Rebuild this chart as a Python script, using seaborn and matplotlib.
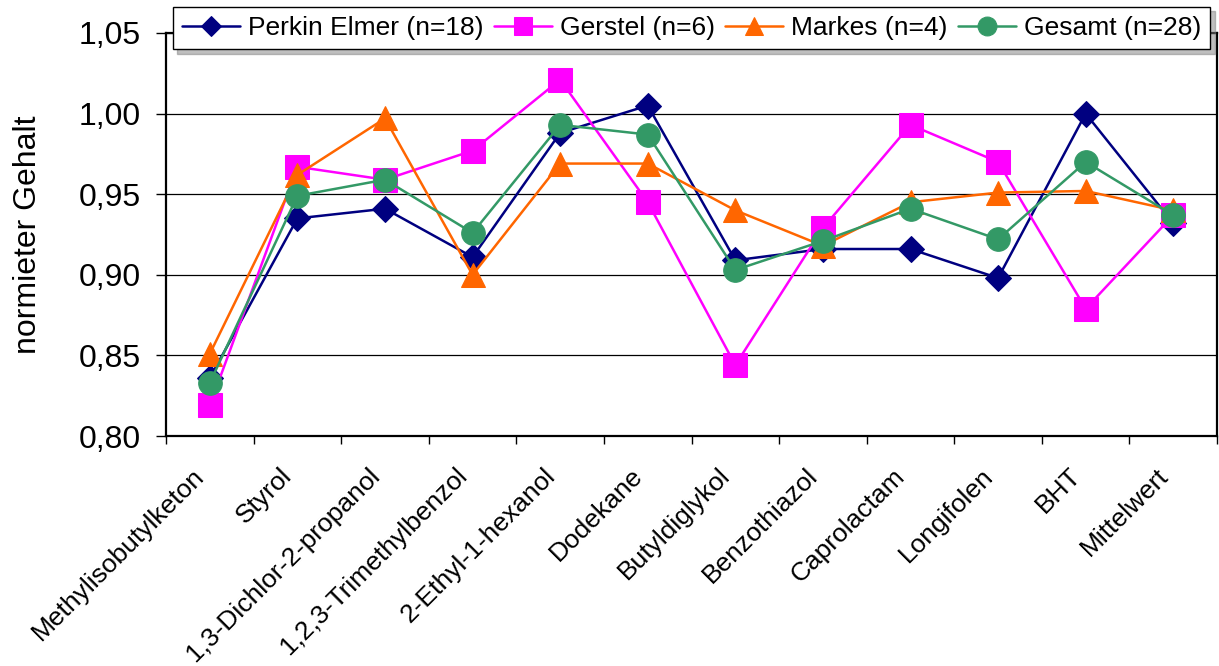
import matplotlib
matplotlib.use("Agg")
import matplotlib.pyplot as plt
import matplotlib.transforms as mtransforms
import seaborn as sns

# Werte
categories = [
    "Methylisobutylketon", "Styrol", "1,3-Dichlor-2-propanol",
    "1,2,3-Trimethylbenzol", "2-Ethyl-1-hexanol", "Dodekane",
    "Butyldiglykol", "Benzothiazol", "Caprolactam", "Longifolen",
    "BHT", "Mittelwert",
]
perkin = [0.836, 0.935, 0.941, 0.911, 0.988, 1.005, 0.909, 0.916, 0.916, 0.898, 1.000, 0.932]
gerstel = [0.819, 0.967, 0.959, 0.977, 1.021, 0.945, 0.844, 0.929, 0.993, 0.970, 0.879, 0.937]
markes = [0.851, 0.962, 0.997, 0.900, 0.969, 0.969, 0.940, 0.918, 0.945, 0.951, 0.952, 0.940]
gesamt = [0.833, 0.949, 0.959, 0.926, 0.993, 0.987, 0.903, 0.921, 0.941, 0.922, 0.970, 0.937]
y_ticks = [0.80, 0.85, 0.90, 0.95, 1.00, 1.05]

sns.set_style("white")
plt.rcParams["font.family"] = ["Liberation Sans", "DejaVu Sans"]
plt.rcParams["text.color"] = "black"
plt.rcParams["axes.labelcolor"] = "black"
plt.rcParams["xtick.color"] = "black"
plt.rcParams["ytick.color"] = "black"

fig = plt.figure(figsize=(12.19, 6.66), dpi=100)
ax = fig.add_axes([0.1362, 0.3453, 0.8622, 0.6052])

series = [
    ("Perkin Elmer (n=18)", perkin, "#000080", "D", 13),
    ("Gerstel (n=6)", gerstel, "#FF00FF", "s", 17),
    ("Markes (n=4)", markes, "#FF6600", "^", 17),
    ("Gesamt (n=28)", gesamt, "#339966", "o", 17),
]
for name, vals, col, mk, ms in series:
    sns.lineplot(x=categories, y=vals, sort=False, color=col, lw=1.8,
                 marker=mk, markersize=ms, markeredgecolor=col,
                 markerfacecolor=col, label=name, ax=ax)

ax.set_xlim(-0.5, len(categories) - 0.5)
ax.set_ylim(0.80, 1.05)
ax.set_yticks(y_ticks)
ax.set_yticklabels([f"{v:.2f}".replace(".", ",") for v in y_ticks], fontsize=23)
ax.yaxis.grid(True, color="black", lw=0.9)
ax.set_axisbelow(True)

ax.set_xticks(range(len(categories)))
ax.set_xticklabels(categories, rotation=45, ha="right", va="center",
                   rotation_mode="anchor", fontsize=19)
ax.set_xticks([i - 0.5 for i in range(len(categories) + 1)], minor=True)
ax.tick_params(axis="x", which="major", length=0, pad=26)
ax.tick_params(axis="x", which="minor", direction="out", length=6, width=1,
               color="black", bottom=True)
ax.tick_params(axis="y", direction="out", length=7, width=1, color="black",
               left=True, pad=11)

# Beschriftungen etwas nach links schieben (wie im Original)
shift = mtransforms.ScaledTranslation(-0.09, 0, fig.dpi_scale_trans)
for tick in ax.xaxis.get_major_ticks():
    tick.label1.set_transform(tick.label1.get_transform() + shift)

for side in ["left", "bottom", "right", "top"]:
    ax.spines[side].set_color("black")
    ax.spines[side].set_linewidth(1.6)

ax.set_xlabel("")
ax.set_ylabel("normieter Gehalt", fontsize=23)
ax.yaxis.set_label_coords(-0.117, 0.5)

leg = ax.legend(loc="upper left", bbox_to_anchor=(0.142, 0.0, 0.851, 0.9895),
                bbox_transform=fig.transFigure, mode="expand", ncol=4,
                fontsize=19, frameon=True, fancybox=False,
                shadow={"ox": 3, "oy": -3, "color": "#808080"},
                edgecolor="black", framealpha=1, handlelength=2.2,
                handletextpad=0.3, borderpad=0.35, columnspacing=0.6,
                markerscale=0.8, borderaxespad=0)
leg.get_frame().set_linewidth(1.0)

fig.savefig("out.png", dpi=100)
